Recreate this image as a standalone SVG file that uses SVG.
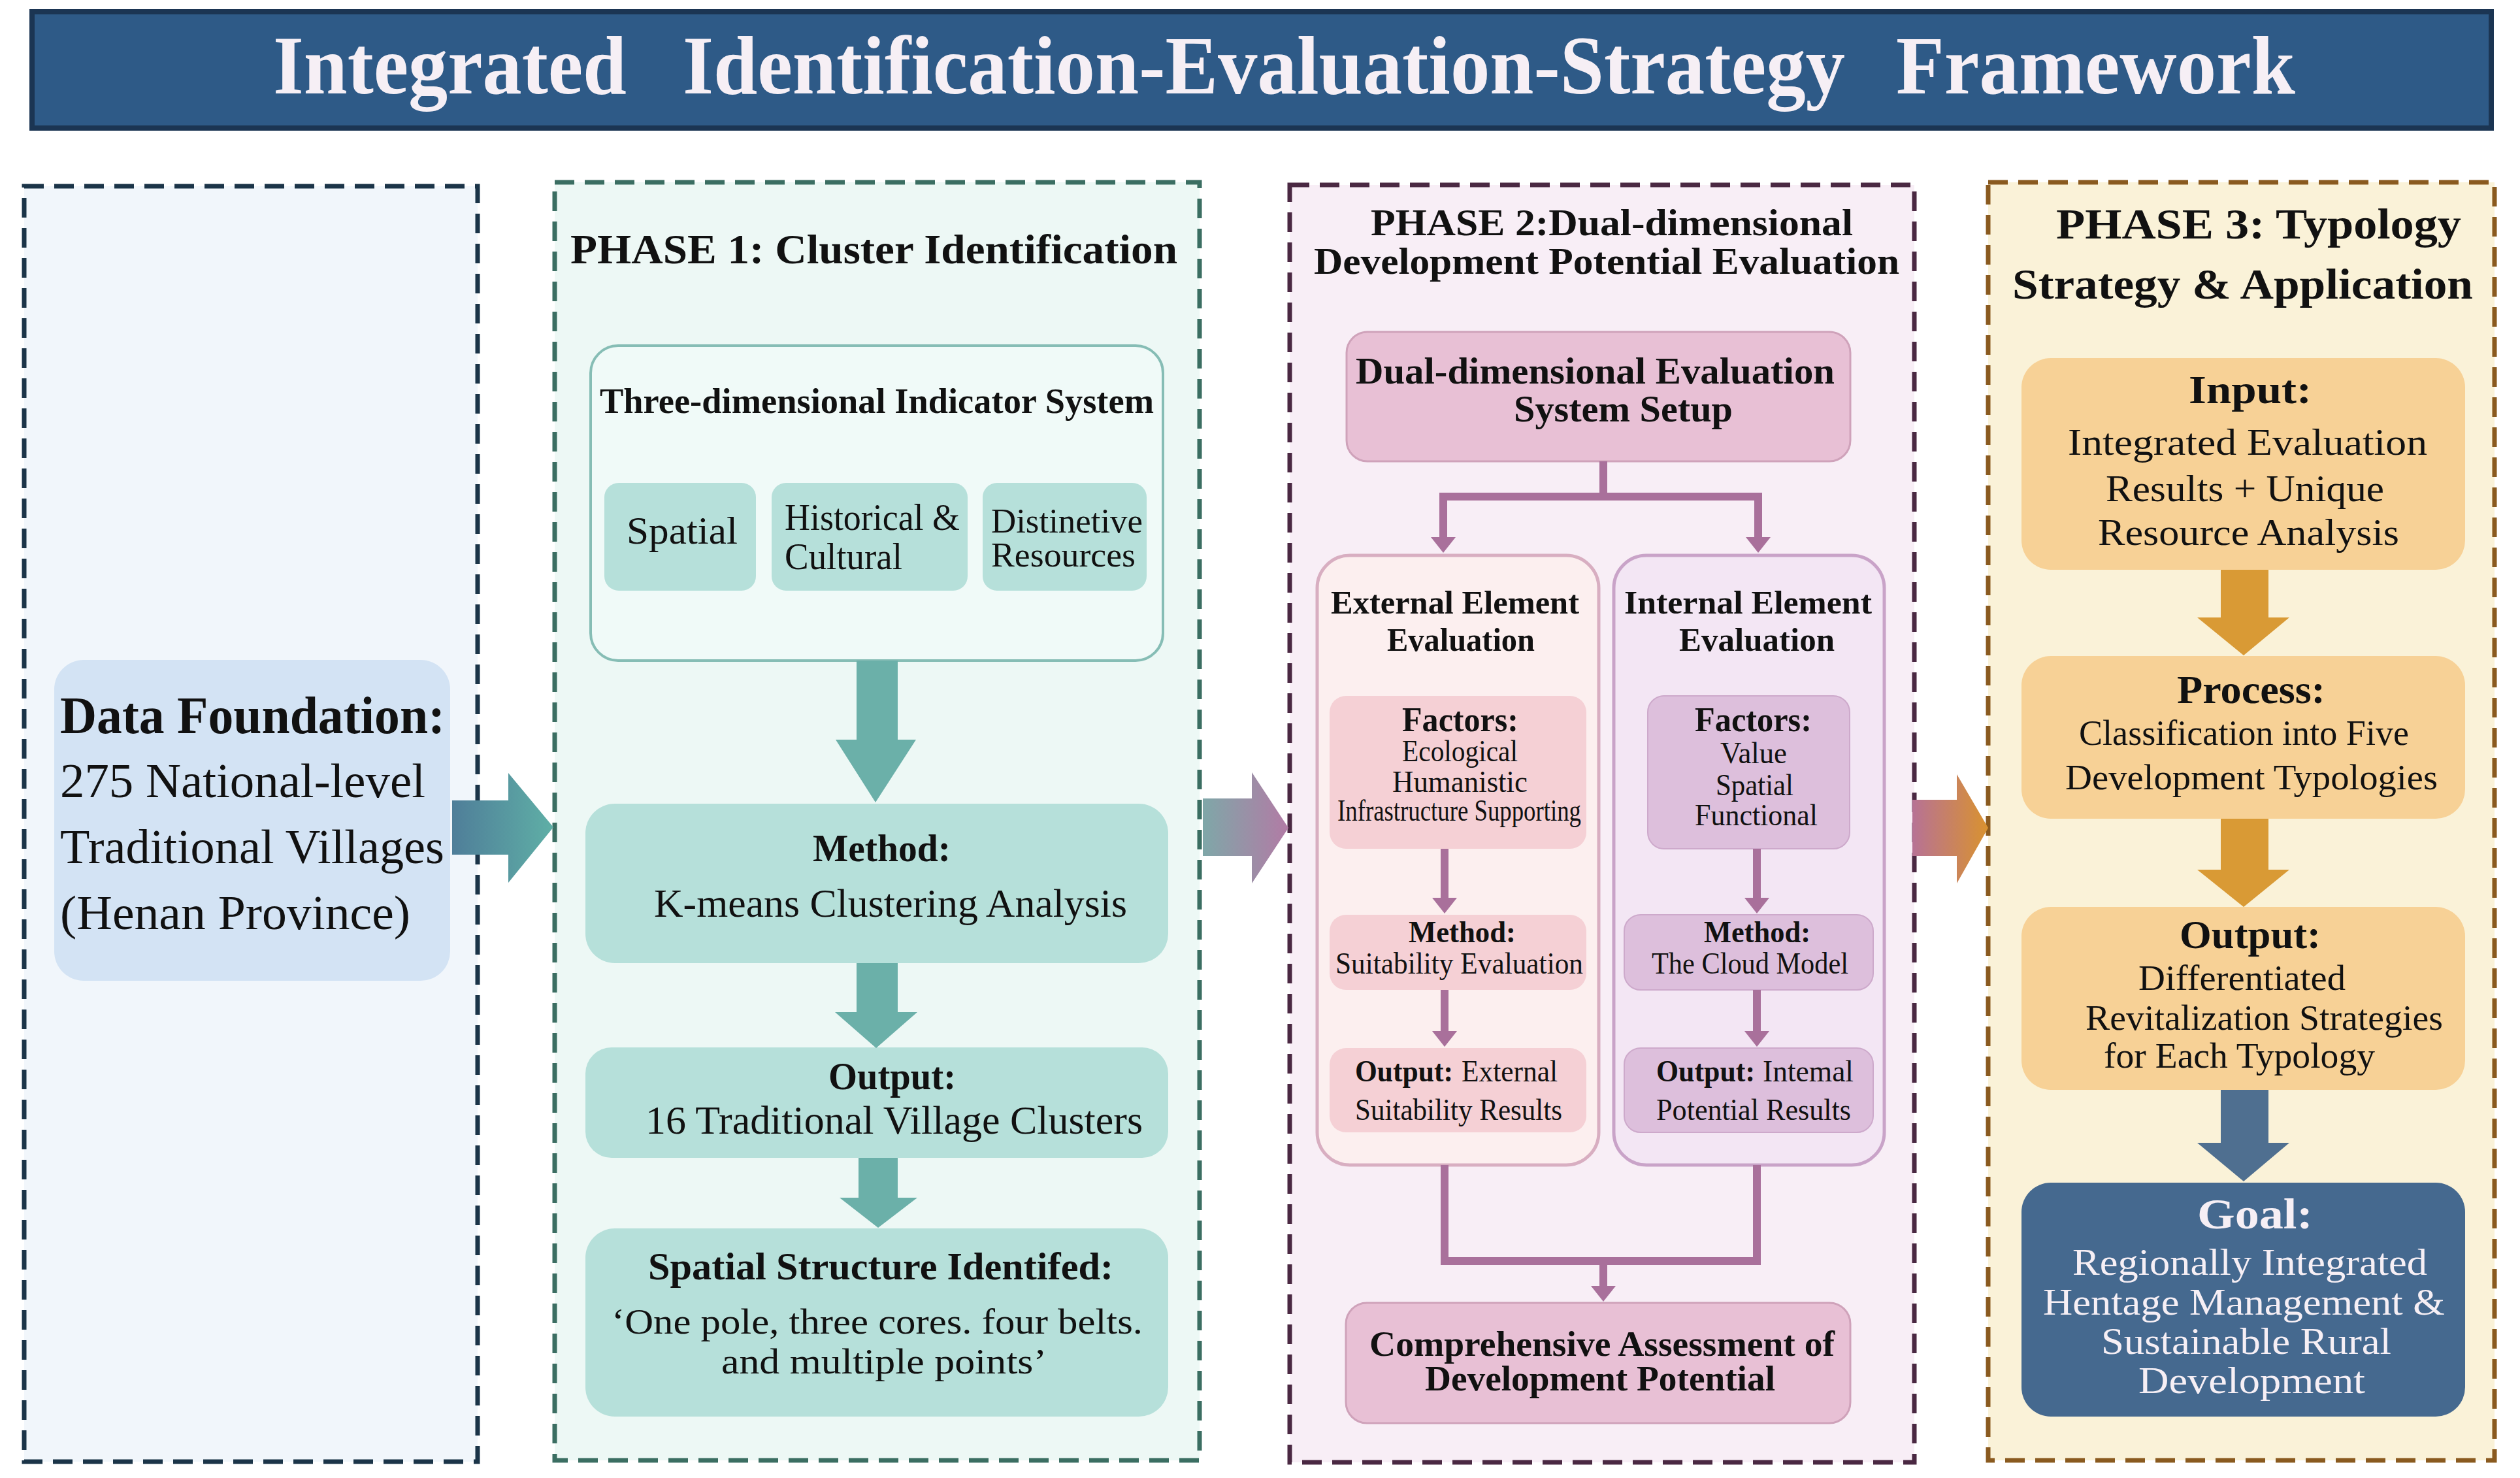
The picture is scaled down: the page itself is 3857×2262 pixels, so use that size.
<svg xmlns="http://www.w3.org/2000/svg" width="3857" height="2262" viewBox="0 0 3857 2262">
<defs>
<style>
.b{font-family:"Liberation Serif","Times New Roman",serif;font-weight:bold;fill:#111}
.r{font-family:"Liberation Serif","Times New Roman",serif;fill:#111}
.w{fill:#F6EFF5}
.panel{stroke-width:7;stroke-dasharray:30 16}
.c1{fill:#B6E0DA}
.t1{fill:#6BB0A9}
.conn{fill:none;stroke:#A9709B;stroke-width:12}
.o1{fill:#F7D196}
.t3{fill:#D99A35}
</style>
<linearGradient id="g1" x1="0" x2="1" y1="0" y2="0"><stop offset="0" stop-color="#4F7E99"/><stop offset="1" stop-color="#5FAFA6"/></linearGradient>
<linearGradient id="g2" x1="0" x2="1" y1="0" y2="0"><stop offset="0" stop-color="#7FA7A8"/><stop offset="1" stop-color="#B27BA5"/></linearGradient>
<linearGradient id="g3" x1="0" x2="1" y1="0" y2="0"><stop offset="0" stop-color="#B77295"/><stop offset="1" stop-color="#D9922F"/></linearGradient>
<marker id="ah" viewBox="0 0 24 38" refX="4" refY="19" markerWidth="24" markerHeight="38" markerUnits="userSpaceOnUse" orient="auto"><path d="M0,0 L24,19 L0,38 z" fill="#A9709B"/></marker>
</defs>
<rect width="3857" height="2262" fill="#ffffff"/>

<g id="title">
<rect x="49" y="18" width="3764" height="178" fill="#2E5A87" stroke="#1B3553" stroke-width="8"/>
<text class="b w" x="418" y="143" font-size="128" textLength="541" lengthAdjust="spacingAndGlyphs">Integrated</text>
<text class="b w" x="1045" y="143" font-size="128" textLength="1779" lengthAdjust="spacingAndGlyphs">Identification-Evaluation-Strategy</text>
<text class="b w" x="2902" y="143" font-size="128" textLength="611" lengthAdjust="spacingAndGlyphs">Framework</text>
</g>

<g id="panel-data">
<rect class="panel" x="37" y="285" width="694" height="1952" fill="#F1F6FB" stroke="#1B3448"/>
</g>
<g id="data-foundation">
<rect x="83" y="1010" width="606" height="491" rx="45" fill="#D3E3F4"/>
<text class="b" x="92" y="1122" font-size="80" textLength="589" lengthAdjust="spacingAndGlyphs">Data Foundation:</text>
<text class="r" x="92" y="1220" font-size="74" textLength="559" lengthAdjust="spacingAndGlyphs">275 National-level</text>
<text class="r" x="92" y="1321" font-size="74" textLength="588" lengthAdjust="spacingAndGlyphs">Traditional Villages</text>
<text class="r" x="92" y="1422" font-size="74" textLength="536" lengthAdjust="spacingAndGlyphs">(Henan Province)</text>
</g>

<g id="panel-phase1">
<rect class="panel" x="849" y="279" width="987" height="1956" fill="#EDF8F5" stroke="#3B6E62"/>
<text class="b" x="873" y="403" font-size="64" textLength="929" lengthAdjust="spacingAndGlyphs">PHASE 1: Cluster Identification</text>
</g>
<g id="indicator-system">
<rect x="904" y="529" width="876" height="482" rx="42" fill="#F0FAF8" stroke="#86BDB5" stroke-width="4"/>
<text class="b" x="918" y="632" font-size="54" textLength="848" lengthAdjust="spacingAndGlyphs">Three-dimensional Indicator System</text>
<rect class="c1" x="925" y="739" width="232" height="165" rx="22"/>
<rect class="c1" x="1181" y="739" width="300" height="165" rx="22"/>
<rect class="c1" x="1504" y="739" width="251" height="165" rx="22"/>
<text class="r" x="959" y="832" font-size="60" textLength="170" lengthAdjust="spacingAndGlyphs">Spatial</text>
<text class="r" x="1201" y="811" font-size="56" textLength="268" lengthAdjust="spacingAndGlyphs">Historical &amp;</text>
<text class="r" x="1201" y="871" font-size="56" textLength="180" lengthAdjust="spacingAndGlyphs">Cultural</text>
<text class="r" x="1517" y="815" font-size="52" textLength="232" lengthAdjust="spacingAndGlyphs">Distinetive</text>
<text class="r" x="1517" y="867" font-size="52" textLength="221" lengthAdjust="spacingAndGlyphs">Resources</text>
</g>
<g id="p1-method">
<rect class="c1" x="896" y="1230" width="892" height="244" rx="45"/>
<text class="b" x="1244" y="1318" font-size="60" textLength="211" lengthAdjust="spacingAndGlyphs">Method:</text>
<text class="r" x="1001" y="1403" font-size="62" textLength="724" lengthAdjust="spacingAndGlyphs">K-means Clustering Analysis</text>
</g>
<g id="p1-output">
<rect class="c1" x="896" y="1603" width="892" height="169" rx="40"/>
<text class="b" x="1268" y="1667" font-size="60" textLength="195" lengthAdjust="spacingAndGlyphs">Output:</text>
<text class="r" x="988" y="1735" font-size="62" textLength="761" lengthAdjust="spacingAndGlyphs">16 Traditional Village Clusters</text>
</g>
<g id="p1-structure">
<rect class="c1" x="896" y="1880" width="892" height="288" rx="45"/>
<text class="b" x="992" y="1958" font-size="60" textLength="712" lengthAdjust="spacingAndGlyphs">Spatial Structure Identifed:</text>
<text class="r" x="936" y="2041" font-size="55" textLength="813" lengthAdjust="spacingAndGlyphs">‘One pole, three cores. four belts.</text>
<text class="r" x="1104" y="2102" font-size="55" textLength="498" lengthAdjust="spacingAndGlyphs">and multiple points’</text>
</g>

<g id="panel-phase2">
<rect class="panel" x="1974" y="283" width="956" height="1955" fill="#F8EEF6" stroke="#4A2842"/>
<text class="b" x="2098" y="360" font-size="58" textLength="738" lengthAdjust="spacingAndGlyphs">PHASE 2:Dual-dimensional</text>
<text class="b" x="2011" y="419" font-size="58" textLength="896" lengthAdjust="spacingAndGlyphs">Development Potential Evaluation</text>
</g>
<g id="p2-setup">
<rect x="2061" y="508" width="771" height="198" rx="32" fill="#E8C0D5" stroke="#CFA2BA" stroke-width="3"/>
<text class="b" x="2075" y="587" font-size="56" textLength="733" lengthAdjust="spacingAndGlyphs">Dual-dimensional Evaluation</text>
<text class="b" x="2317" y="645" font-size="56" textLength="335" lengthAdjust="spacingAndGlyphs">System Setup</text>
</g>
<g id="p2-external">
<rect x="2016" y="850" width="431" height="933" rx="50" fill="#FCEFEF" stroke="#D8AEC1" stroke-width="5"/>
<text class="b" x="2037" y="939" font-size="50" textLength="380" lengthAdjust="spacingAndGlyphs">External  Element</text>
<text class="b" x="2123" y="996" font-size="50" textLength="226" lengthAdjust="spacingAndGlyphs">Evaluation</text>
<rect x="2035" y="1065" width="393" height="234" rx="25" fill="#F5D0D5"/>
<text class="b" x="2146" y="1119" font-size="52" textLength="178" lengthAdjust="spacingAndGlyphs">Factors:</text>
<text class="r" x="2146" y="1165" font-size="46" textLength="177" lengthAdjust="spacingAndGlyphs">Ecological</text>
<text class="r" x="2131" y="1212" font-size="46" textLength="207" lengthAdjust="spacingAndGlyphs">Humanistic</text>
<text class="r" x="2047" y="1256" font-size="46" textLength="373" lengthAdjust="spacingAndGlyphs">Infrastructure Supporting</text>
<rect x="2035" y="1400" width="393" height="115" rx="25" fill="#F5D0D5"/>
<text class="b" x="2156" y="1442" font-size="46" textLength="164" lengthAdjust="spacingAndGlyphs">Method:</text>
<text class="r" x="2044" y="1490" font-size="46" textLength="379" lengthAdjust="spacingAndGlyphs">Suitability Evaluation</text>
<rect x="2035" y="1604" width="393" height="129" rx="25" fill="#F5D0D5"/>
<text class="b" x="2074" y="1655" font-size="46" textLength="150" lengthAdjust="spacingAndGlyphs">Output:</text>
<text class="r" x="2237" y="1655" font-size="46" textLength="147" lengthAdjust="spacingAndGlyphs">External</text>
<text class="r" x="2074" y="1714" font-size="46" textLength="317" lengthAdjust="spacingAndGlyphs">Suitability Results</text>
</g>
<g id="p2-internal">
<rect x="2470" y="850" width="414" height="933" rx="50" fill="#F3E6F4" stroke="#C9A3C8" stroke-width="5"/>
<text class="b" x="2486" y="939" font-size="50" textLength="379" lengthAdjust="spacingAndGlyphs">Internal Element</text>
<text class="b" x="2570" y="996" font-size="50" textLength="238" lengthAdjust="spacingAndGlyphs">Evaluation</text>
<rect x="2522" y="1065" width="309" height="234" rx="25" fill="#DDBFDC" stroke="#CDA9CB" stroke-width="2"/>
<text class="b" x="2594" y="1119" font-size="52" textLength="179" lengthAdjust="spacingAndGlyphs">Factors:</text>
<text class="r" x="2633" y="1168" font-size="46" textLength="102" lengthAdjust="spacingAndGlyphs">Value</text>
<text class="r" x="2626" y="1217" font-size="46" textLength="119" lengthAdjust="spacingAndGlyphs">Spatial</text>
<text class="r" x="2594" y="1263" font-size="46" textLength="188" lengthAdjust="spacingAndGlyphs">Functional</text>
<rect x="2486" y="1400" width="381" height="115" rx="25" fill="#DDBFDC" stroke="#CDA9CB" stroke-width="2"/>
<text class="b" x="2608" y="1442" font-size="46" textLength="163" lengthAdjust="spacingAndGlyphs">Method:</text>
<text class="r" x="2528" y="1490" font-size="46" textLength="301" lengthAdjust="spacingAndGlyphs">The Cloud Model</text>
<rect x="2486" y="1604" width="381" height="129" rx="25" fill="#DDBFDC" stroke="#CDA9CB" stroke-width="2"/>
<text class="b" x="2535" y="1655" font-size="46" textLength="151" lengthAdjust="spacingAndGlyphs">Output:</text>
<text class="r" x="2698" y="1655" font-size="46" textLength="139" lengthAdjust="spacingAndGlyphs">Intemal</text>
<text class="r" x="2535" y="1714" font-size="46" textLength="298" lengthAdjust="spacingAndGlyphs">Potential Results</text>
</g>
<g id="p2-comprehensive">
<rect x="2060" y="1994" width="772" height="184" rx="32" fill="#E8C0D5" stroke="#CFA2BA" stroke-width="3"/>
<text class="b" x="2096" y="2075" font-size="54" textLength="712" lengthAdjust="spacingAndGlyphs">Comprehensive Assessment of</text>
<text class="b" x="2181" y="2128" font-size="54" textLength="536" lengthAdjust="spacingAndGlyphs">Development Potential</text>
</g>

<g id="panel-phase3">
<rect class="panel" x="3043" y="279" width="775" height="1956" fill="#FAF2D8" stroke="#8A5A1F"/>
<text class="b" x="3147" y="365" font-size="66" textLength="620" lengthAdjust="spacingAndGlyphs">PHASE 3: Typology</text>
<text class="b" x="3080" y="457" font-size="66" textLength="705" lengthAdjust="spacingAndGlyphs">Strategy &amp; Application</text>
</g>
<g id="p3-input">
<rect class="o1" x="3094" y="548" width="679" height="324" rx="45"/>
<text class="b" x="3350" y="617" font-size="62" textLength="188" lengthAdjust="spacingAndGlyphs">Input:</text>
<text class="r" x="3165" y="696" font-size="58" textLength="550" lengthAdjust="spacingAndGlyphs">Integrated Evaluation</text>
<text class="r" x="3223" y="767" font-size="58" textLength="426" lengthAdjust="spacingAndGlyphs">Results + Unique</text>
<text class="r" x="3211" y="834" font-size="58" textLength="461" lengthAdjust="spacingAndGlyphs">Resource Analysis</text>
</g>
<g id="p3-process">
<rect class="o1" x="3094" y="1004" width="679" height="249" rx="45"/>
<text class="b" x="3332" y="1076" font-size="62" textLength="227" lengthAdjust="spacingAndGlyphs">Process:</text>
<text class="r" x="3182" y="1140" font-size="54" textLength="505" lengthAdjust="spacingAndGlyphs">Classification into Five</text>
<text class="r" x="3161" y="1208" font-size="54" textLength="570" lengthAdjust="spacingAndGlyphs">Development Typologies</text>
</g>
<g id="p3-output">
<rect class="o1" x="3094" y="1388" width="679" height="280" rx="45"/>
<text class="b" x="3336" y="1451" font-size="62" textLength="216" lengthAdjust="spacingAndGlyphs">Output:</text>
<text class="r" x="3273" y="1515" font-size="54" textLength="317" lengthAdjust="spacingAndGlyphs">Differentiated</text>
<text class="r" x="3192" y="1576" font-size="54" textLength="547" lengthAdjust="spacingAndGlyphs">Revitalization Strategies</text>
<text class="r" x="3220" y="1634" font-size="54" textLength="415" lengthAdjust="spacingAndGlyphs">for Each Typology</text>
</g>
<g id="p3-goal">
<rect x="3094" y="1810" width="679" height="358" rx="45" fill="#45698F"/>
<text class="b w" x="3363" y="1880" font-size="66" textLength="177" lengthAdjust="spacingAndGlyphs">Goal:</text>
<text class="r w" x="3172" y="1951" font-size="56" textLength="543" lengthAdjust="spacingAndGlyphs">Regionally Integrated</text>
<text class="r w" x="3127" y="2012" font-size="56" textLength="615" lengthAdjust="spacingAndGlyphs">Hentage Management &amp;</text>
<text class="r w" x="3216" y="2072" font-size="56" textLength="444" lengthAdjust="spacingAndGlyphs">Sustainable Rural</text>
<text class="r w" x="3273" y="2132" font-size="56" textLength="347" lengthAdjust="spacingAndGlyphs">Development</text>
</g>

<g id="connectors">
<polygon points="692,1225 778,1225 778,1183 847,1266 778,1351 778,1308 692,1308" fill="url(#g1)"/>
<polygon points="1841,1222 1916,1222 1916,1182 1972,1267 1916,1352 1916,1310 1841,1310" fill="url(#g2)"/>
<polygon points="2927,1224 2995,1224 2995,1185 3043,1267 2995,1352 2995,1310 2927,1310" fill="url(#g3)"/>
<polygon class="t1" points="1311,1011 1374,1011 1374,1132 1402,1132 1340,1228 1279,1132 1311,1132"/>
<polygon class="t1" points="1311,1474 1374,1474 1374,1549 1404,1549 1341,1604 1278,1549 1311,1549"/>
<polygon class="t1" points="1314,1772 1374,1772 1374,1833 1404,1833 1344,1879 1285,1833 1314,1833"/>
<path class="conn" d="M2454,706 V760 M2203,760 H2697"/>
<path class="conn" d="M2209,754 V826" marker-end="url(#ah)"/>
<path class="conn" d="M2691,754 V826" marker-end="url(#ah)"/>
<path class="conn" d="M2211,1299 V1378" marker-end="url(#ah)"/>
<path class="conn" d="M2689,1299 V1378" marker-end="url(#ah)"/>
<path class="conn" d="M2211,1515 V1582" marker-end="url(#ah)"/>
<path class="conn" d="M2689,1515 V1582" marker-end="url(#ah)"/>
<path class="conn" d="M2211,1783 V1930 H2689 V1783"/>
<path class="conn" d="M2454,1930 V1972" marker-end="url(#ah)"/>
<polygon class="t3" points="3399,872 3472,872 3472,945 3504,945 3434,1003 3363,945 3399,945"/>
<polygon class="t3" points="3399,1253 3472,1253 3472,1331 3504,1331 3434,1388 3363,1331 3399,1331"/>
<polygon fill="#4F6F90" points="3399,1668 3472,1668 3472,1749 3504,1749 3434,1808 3363,1749 3399,1749"/>
</g>
</svg>
